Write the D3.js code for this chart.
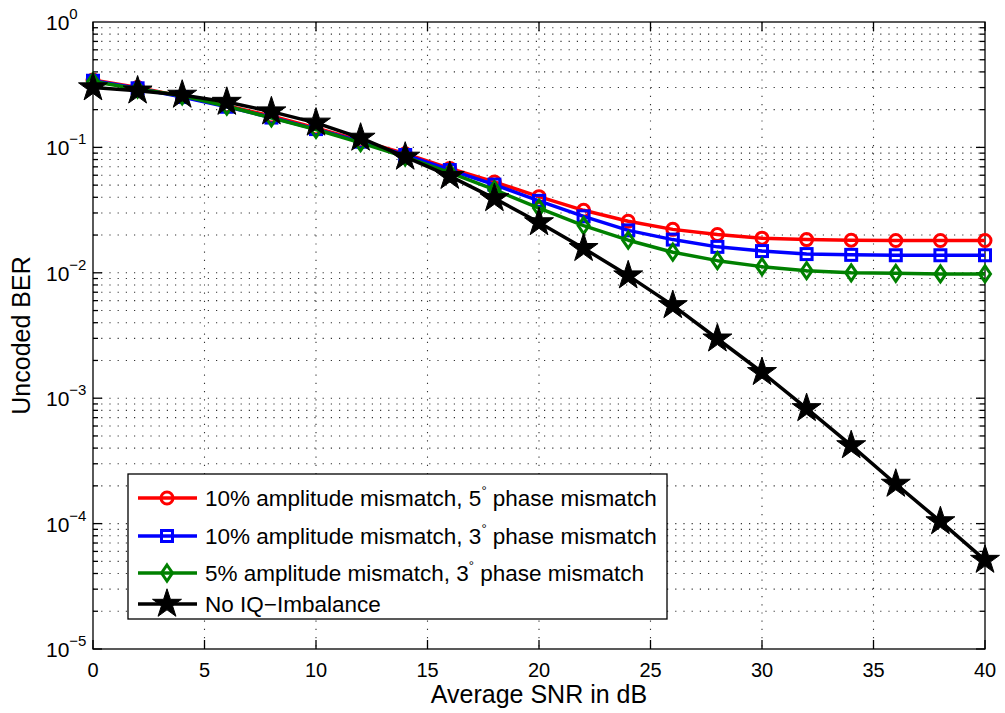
<!DOCTYPE html>
<html lang="en">
<head>
  <meta charset="UTF-8">
  <script src="https://cdn.jsdelivr.net/npm/d3@7"></script>
  <title>BER vs SNR</title>
  <style>
    body { margin: 0; background: #fff; }
    text { font-family: "Liberation Sans", Arial, sans-serif; }
  </style>
</head>
<body>
<script>
// SNR points (dB)
const snr = [0, 2, 4, 6, 8, 10, 12, 14, 16, 18, 20, 22, 24, 26, 28, 30, 32, 34, 36, 38, 40];

// BER
const berAmp10Ph5 = [0.345, 0.300, 0.255, 0.215, 0.178, 0.143, 0.113, 0.089, 0.068, 0.053, 0.0405, 0.0315, 0.0258, 0.0222, 0.0202, 0.0189, 0.0184, 0.0182, 0.0181, 0.0181, 0.0181];
const berAmp10Ph3 = [0.340, 0.296, 0.252, 0.211, 0.173, 0.140, 0.111, 0.087, 0.066, 0.0505, 0.0375, 0.0282, 0.0218, 0.0184, 0.0161, 0.0149, 0.0141, 0.0139, 0.0138, 0.0138, 0.0138];
const berAmp5Ph3 = [0.335, 0.292, 0.258, 0.213, 0.172, 0.139, 0.109, 0.084, 0.063, 0.046, 0.0328, 0.0238, 0.0182, 0.0146, 0.0125, 0.0112, 0.0104, 0.0100, 0.0099, 0.0098, 0.0098];
const berNoIQ = [0.300, 0.283, 0.262, 0.230, 0.193, 0.157, 0.119, 0.084, 0.059, 0.0392, 0.0252, 0.0157, 0.0095, 0.0055, 0.00298, 0.00161, 0.00083, 0.00042, 0.000207, 0.000104, 0.0000512];

const seriesNames = [
  "10% amplitude mismatch, 5° phase mismatch",
  "10% amplitude mismatch, 3° phase mismatch",
  "5% amplitude mismatch, 3° phase mismatch",
  "No IQ\u2212Imbalance"
];
const seriesColors = ["#ff0000", "#0000ff", "#008000", "#000000"];
const seriesMarkers = ["circle", "square", "diamond", "star"];

const xTicks = [0, 5, 10, 15, 20, 25, 30, 35, 40];
const yExps = [0, -1, -2, -3, -4, -5];

const W = 1005, H = 713;
const m = { left: 93, right: 20, top: 22, bottom: 64 };

const svg = d3.select("body").append("svg")
  .attr("width", W).attr("height", H);

const x = d3.scaleLinear().domain([0, 40]).range([m.left, W - m.right]);
const y = d3.scaleLog().domain([1e-5, 1]).range([H - m.bottom, m.top]);

// grid
const grid = svg.append("g").attr("stroke", "#333").attr("stroke-width", 1.1)
  .attr("stroke-dasharray", "1.2,7");
xTicks.slice(1, -1).forEach(function (t) {
  grid.append("line").attr("x1", x(t)).attr("x2", x(t))
    .attr("y1", y(1)).attr("y2", y(1e-5));
});
const minorVals = [];
for (let e = -5; e < 0; e++) {
  for (let k = 1; k < 10; k++) minorVals.push(k * Math.pow(10, e));
}
minorVals.slice(1).forEach(function (v) {
  grid.append("line").attr("x1", x(0)).attr("x2", x(40))
    .attr("y1", y(v)).attr("y2", y(v));
});

// axes box
const ax = svg.append("g").attr("stroke", "#000").attr("stroke-width", 1.3);
ax.append("rect").attr("x", x(0)).attr("y", y(1))
  .attr("width", x(40) - x(0)).attr("height", y(1e-5) - y(1))
  .attr("fill", "none");

xTicks.forEach(function (t) {
  ax.append("line").attr("x1", x(t)).attr("x2", x(t)).attr("y1", y(1e-5)).attr("y2", y(1e-5) - 9);
  ax.append("line").attr("x1", x(t)).attr("x2", x(t)).attr("y1", y(1)).attr("y2", y(1) + 9);
});
minorVals.forEach(function (v) {
  const len = (Math.abs(Math.log10(v) - Math.round(Math.log10(v))) < 1e-9) ? 9 : 5;
  ax.append("line").attr("x1", x(0)).attr("x2", x(0) + len).attr("y1", y(v)).attr("y2", y(v));
  ax.append("line").attr("x1", x(40)).attr("x2", x(40) - len).attr("y1", y(v)).attr("y2", y(v));
});

// tick labels
svg.append("g").selectAll("text").data(xTicks).enter().append("text")
  .attr("x", function (d) { return x(d); })
  .attr("y", y(1e-5) + 28)
  .attr("text-anchor", "middle")
  .attr("font-size", 20)
  .text(function (d) { return d; });

const yl = svg.append("g").selectAll("text").data(yExps).enter().append("text")
  .attr("x", x(0) - 47)
  .attr("y", function (d) { return y(Math.pow(10, d)) + 8; })
  .attr("font-size", 21);
yl.append("tspan").text("10");
yl.append("tspan").attr("dy", -11).attr("font-size", 15)
  .text(function (d) { return d === 0 ? "0" : "\u2212" + (-d); });

// axis labels
svg.append("text").attr("x", (x(0) + x(40)) / 2).attr("y", H - 10)
  .attr("text-anchor", "middle").attr("font-size", 25).text("Average SNR in dB");
svg.append("text")
  .attr("transform", "translate(30," + ((y(1) + y(1e-5)) / 2) + ") rotate(-90)")
  .attr("text-anchor", "middle").attr("font-size", 25).text("Uncoded BER");

// markers
function drawMarker(g, type, cx, cy, color) {
  if (type === "circle") {
    g.append("circle").attr("cx", cx).attr("cy", cy).attr("r", 6)
      .attr("fill", "none").attr("stroke", color).attr("stroke-width", 3);
  } else if (type === "square") {
    g.append("rect").attr("x", cx - 5.5).attr("y", cy - 5.5).attr("width", 11).attr("height", 11)
      .attr("fill", "none").attr("stroke", color).attr("stroke-width", 3);
  } else if (type === "diamond") {
    g.append("path").attr("d", "M" + cx + "," + (cy - 8) + "L" + (cx + 5.5) + "," + cy +
      "L" + cx + "," + (cy + 8) + "L" + (cx - 5.5) + "," + cy + "Z")
      .attr("fill", "none").attr("stroke", color).attr("stroke-width", 3);
  } else {
    g.append("path").attr("d", d3.symbol().type(d3.symbolStar).size(260)())
      .attr("transform", "translate(" + cx + "," + cy + ")")
      .attr("fill", color).attr("stroke", color).attr("stroke-width", 1);
  }
}

const allSeries = [berAmp10Ph5, berAmp10Ph3, berAmp5Ph3, berNoIQ];
const line = d3.line().x(function (d, i) { return x(snr[i]); }).y(function (d) { return y(d); });

allSeries.forEach(function (vals, s) {
  const g = svg.append("g");
  g.append("path").datum(vals).attr("d", line)
    .attr("fill", "none").attr("stroke", seriesColors[s]).attr("stroke-width", 3.5)
    .attr("stroke-linejoin", "round");
  vals.forEach(function (v, i) { drawMarker(g, seriesMarkers[s], x(snr[i]), y(v), seriesColors[s]); });
});

// legend
const lg = svg.append("g");
lg.append("rect").attr("x", 128).attr("y", 474).attr("width", 539).attr("height", 145)
  .attr("fill", "#fff").attr("stroke", "#000").attr("stroke-width", 1.3);
const rowY = [498, 536, 573, 604];
seriesNames.forEach(function (name, s) {
  lg.append("line").attr("x1", 138).attr("x2", 197).attr("y1", rowY[s]).attr("y2", rowY[s])
    .attr("stroke", seriesColors[s]).attr("stroke-width", 3.5);
  drawMarker(lg, seriesMarkers[s], 167, rowY[s], seriesColors[s]);
  const t = lg.append("text").attr("x", 205).attr("y", rowY[s] + 8).attr("font-size", 22.5);
  const parts = name.split("°");
  if (parts.length === 2) {
    t.append("tspan").text(parts[0]);
    t.append("tspan").attr("dy", -11).attr("font-size", 13).text("°");
    t.append("tspan").attr("dy", 11).text(parts[1]);
  } else {
    t.text(name);
  }
});
</script>
</body>
</html>
